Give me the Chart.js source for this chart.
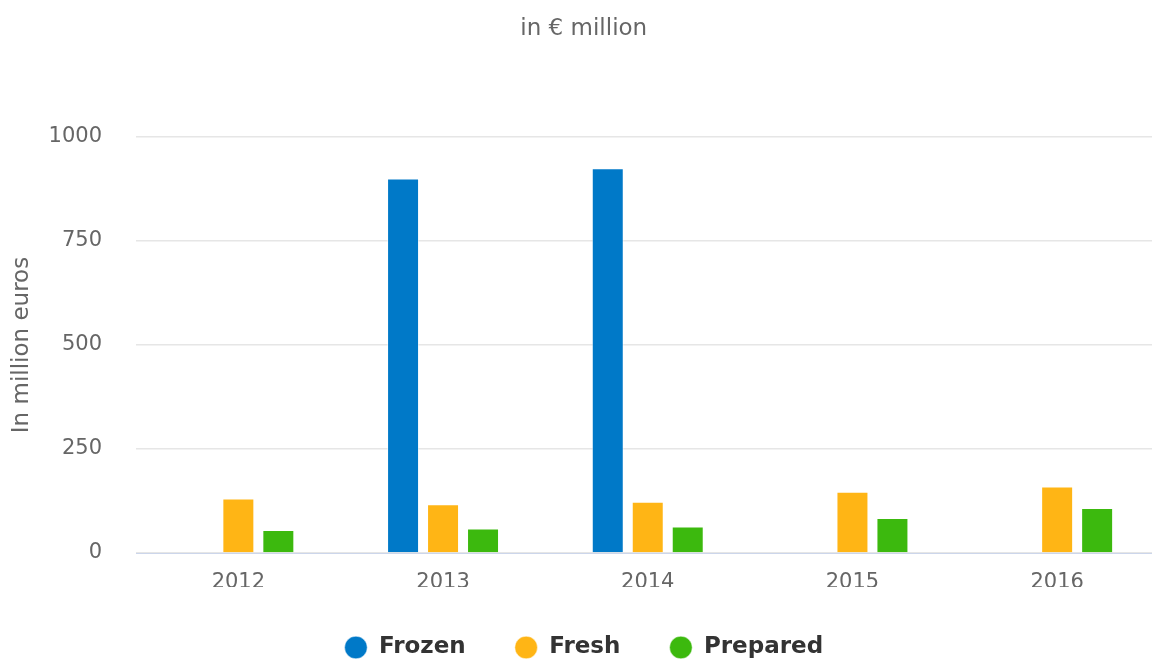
<!DOCTYPE html>
<html>
<head>
<meta charset="utf-8">
<script src="https://cdn.jsdelivr.net/npm/chart.js@4.4.1/dist/chart.umd.min.js"></script>
<style>
  html, body { margin: 0; padding: 0; background: #fff; overflow: hidden; }
  #wrap { width: 1170px; height: 669px; }
</style>
</head>
<body>
<div id="wrap"><canvas id="Grafico" width="1170" height="669"></canvas></div>
<script>
var years = ["2012", "2013", "2014", "2015", "2016"];
var frozen = [null, 900, 925, null, null];
var fresh = [131, 117, 123, 147, 160];
var prepared = [55, 59, 64, 84, 108];
var yTicks = [0, 250, 500, 750, 1000];

var font = "'DejaVu Sans', sans-serif";

document.addEventListener('DOMContentLoaded', function () {
    let canva = document.getElementById("Grafico").getContext("2d");
    var chart = new Chart(canva, {
      type: "bar",
      data: {
        labels: years,
        datasets: [
          { label: "Frozen", data: frozen, backgroundColor: "#0079c8", borderColor: "rgba(255,255,255,0.5)", borderWidth: 1 },
          { label: "Fresh", data: fresh, backgroundColor: "#ffb515", borderColor: "rgba(255,255,255,0.5)", borderWidth: 1 },
          { label: "Prepared", data: prepared, backgroundColor: "#3cb90e", borderColor: "rgba(255,255,255,0.5)", borderWidth: 1 }
        ]
      },
      options: {
        responsive: false,
        animation: false,
        categoryPercentage: 0.586,
        barPercentage: 0.8,
        layout: { padding: { left: 8, right: 10.5, top: 0, bottom: 0 } },
        plugins: {
          tooltip: { enabled: false },
          subtitle: {
            display: true,
            text: "in € million",
            color: "#666",
            font: { family: font, size: 23 },
            padding: { top: 15, bottom: 94.4 }
          },
          legend: {
            position: "bottom",
            labels: {
              usePointStyle: true,
              pointStyle: "circle",
              boxWidth: 23,
              boxHeight: 16,
              padding: 49,
              color: "#333",
              font: { family: font, size: 23, weight: "bold" }
            }
          }
        },
        scales: {
          x: {
            grid: { display: false },
            border: { color: "#ccd6eb", width: 1 },
            ticks: { color: "#666", font: { family: font, size: 21, lineHeight: 1 }, padding: 11.5 },
            afterFit: function (axis) { axis.height = 34; }
          },
          y: {
            min: 0,
            max: 1000,
            afterBuildTicks: function (axis) {
              axis.ticks = yTicks.map(function (v) { return { value: v }; });
            },
            grid: { color: "#e6e6e6", lineWidth: 1.5, drawTicks: false },
            border: { display: false },
            ticks: {
              color: "#666",
              font: { family: font, size: 21 },
              padding: 34,
              callback: function (v) { return String(v); }
            },
            title: {
              display: true,
              text: "In million euros",
              color: "#666",
              font: { family: font, size: 23 },
              padding: { top: 0, bottom: 0 }
            },
            afterFit: function (axis) { axis.width = 128; }
          }
        }
      }
    });
});
</script>
</body>
</html>
